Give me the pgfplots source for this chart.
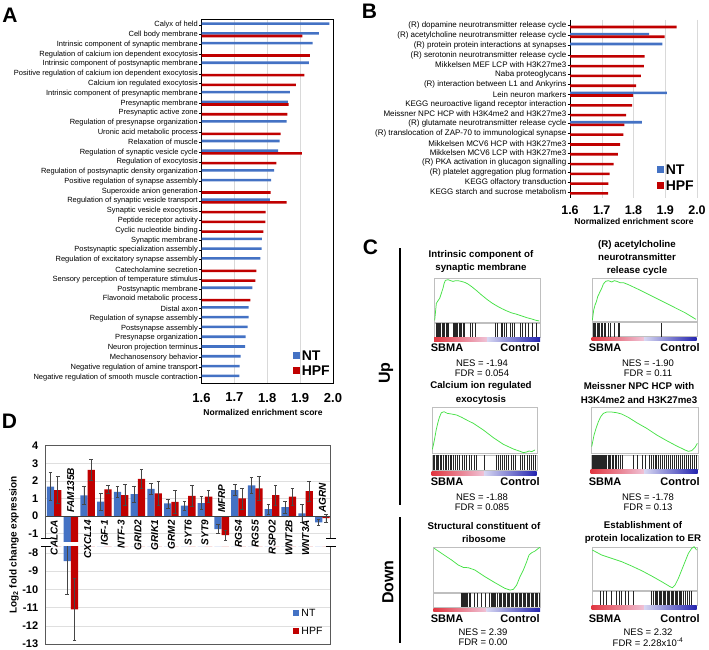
\documentclass[border=0pt]{standalone}
\usepackage{pgfplots}
\pgfplotsset{compat=1.18}
\usepackage{fontspec}
\setmainfont{Liberation Sans}
\definecolor{ntblue}{RGB}{68,114,196}
\definecolor{hpfred}{RGB}{192,0,0}
\definecolor{esgreen}{RGB}{70,225,70}
\definecolor{gsred}{RGB}{225,55,65}
\definecolor{gspink}{RGB}{240,195,215}
\definecolor{gslav}{RGB}{215,215,242}
\definecolor{gsblue}{RGB}{35,35,175}
\newcommand{\fs}[1]{\fontsize{#1}{#1}\selectfont}
\pgfplotsset{
 esax/.style={scale only axis, anchor=north west, y dir=reverse, xtick=\empty, ytick=\empty,
   axis line style={gray!50, line width=0.4pt}},
 bcax/.style={scale only axis, anchor=north west, ymin=0, ymax=1, xtick=\empty, ytick=\empty,
   axis line style={gray!50, line width=0.4pt}},
 escurve/.style={esgreen, line width=0.75pt, mark=none},
 bclines/.style={ycomb, black!85, line width=0.45pt, mark=none},
 eb/.style={error bars/y dir=both, error bars/y explicit,
   error bars/error bar style={gray!55!black, line width=0.5pt},
   error bars/error mark options={rotate=90, mark size=1.8pt, gray!55!black, line width=0.5pt}},
 sqleg/.style={legend image code/.code={\fill[##1] (0pt,-3pt) rectangle (7pt,4pt);}},
 sqlegs/.style={legend image code/.code={\fill[##1] (0pt,-2.5pt) rectangle (6pt,3.5pt);}},
}
\newcommand{\ribbon}[4]{% x1 x2 y1 y2 (pt numbers)
 \pgfmathsetmacro{\rmid}{(#1+#2)/2}%
 \shade[left color=gsred, right color=gspink] (#1pt,-#3pt) rectangle (\rmid pt,-#4pt);
 \shade[left color=gslav, right color=gsblue] (\rmid pt,-#3pt) rectangle (#2pt,-#4pt);}
\begin{document}
\begin{tikzpicture}
\useasboundingbox (0pt,0pt) rectangle (709pt,-649pt);

% ---------------- Panel A ----------------
\begin{axis}[
  at={(201.5pt,-19pt)}, anchor=north west, scale only axis,
  width=131.5pt, height=364pt,
  xmin=1.6, xmax=2.0, ymin=-0.6, ymax=36.6, y dir=reverse,
  xbar, bar width=2.6pt,
  axis line style={black, line width=0.7pt},
  xtick={1.6,1.7,1.8,1.9,2.0},
  xticklabel style={font=\bfseries\fs{13}, /pgf/number format/fixed, /pgf/number format/fixed zerofill, /pgf/number format/precision=1, /pgf/number format/assume math mode=true, yshift=-4pt},
  xtick style={draw=none},
  xmajorgrids, grid style={gray!30, line width=0.5pt},
  ytick={0,...,36},
  yticklabels={Calyx of held, Cell body membrane, Intrinsic component of synaptic membrane, Regulation of calcium ion dependent exocytosis, Intrinsic component of postsynaptic membrane, Positive regulation of calcium ion dependent exocytosis, Calcium ion regulated exocytosis, Intrinsic component of presynaptic membrane, Presynaptic membrane, Presynaptic active zone, Regulation of presynapse organization, Uronic acid metabolic process, Relaxation of muscle, Regulation of synaptic vesicle cycle, Regulation of exocytosis, Regulation of postsynaptic density organization, Positive regulation of synapse assembly, Superoxide anion generation, Regulation of synaptic vesicle transport, Synaptic vesicle exocytosis, Peptide receptor activity, Cyclic nucleotide binding, Synaptic membrane, Postsynaptic specialization assembly, Regulation of excitatory synapse assembly, Catecholamine secretion, Sensory perception of temperature stimulus, Postsynaptic membrane, Flavonoid metabolic process, Distal axon, Regulation of synapse assembly, Postsynapse assembly, Presynapse organization, Neuron projection terminus, Mechanosensory behavior, Negative regulation of amine transport, Negative regulation of smooth muscle contraction},
  yticklabel style={font=\fs{7.5}, inner sep=1pt},
  ytick pos=left, tick align=outside, major tick length=2.5pt, ytick style={black, line width=0.5pt},
  legend style={draw=none, fill=none, font=\bfseries\fs{14}, at={(axis cs:2.0,36.3)}, anchor=south east, inner sep=1pt, row sep=0pt},
  legend cell align=left,
]
\addplot[fill=ntblue, draw=none, bar shift=1.3pt, sqleg] coordinates {
(1.989,0) (1.957,1) (1.938,2) (1.927,4) (1.869,7) (1.863,8) (1.859,10) (1.838,12) (1.833,13) (1.821,15) (1.812,16) (1.808,18) (1.784,22) (1.783,23) (1.779,24) (1.755,27) (1.743,29) (1.743,30) (1.740,31) (1.734,32) (1.733,33) (1.719,34) (1.716,35) (1.715,36)};
\addplot[fill=hpfred, draw=none, bar shift=-1.3pt, sqleg] coordinates {
(1.907,1) (1.930,3) (1.913,5) (1.887,6) (1.865,8) (1.861,9) (1.841,11) (1.905,13) (1.828,14) (1.810,17) (1.859,18) (1.795,19) (1.794,20) (1.788,21) (1.767,25) (1.764,26) (1.749,28)};
\legend{NT,HPF}
\end{axis}
\node[font=\bfseries\fs{8.5}] at (263pt,-412pt) {Normalized enrichment score};

% ---------------- Panel B ----------------
\begin{axis}[
  at={(570pt,-19.8pt)}, anchor=north west, scale only axis,
  width=127pt, height=178.2pt,
  xmin=1.6, xmax=2.0, ymin=-0.6, ymax=17.6, y dir=reverse,
  xbar, bar width=2.6pt,
  axis y line*=left, axis x line*=bottom,
  x axis line style={draw=none}, y axis line style={black, line width=0.7pt, -},
  xtick={1.6,1.7,1.8,1.9,2.0},
  xticklabel style={font=\bfseries\fs{12.5}, /pgf/number format/fixed, /pgf/number format/fixed zerofill, /pgf/number format/precision=1, /pgf/number format/assume math mode=true, yshift=-2pt},
  xtick style={draw=none},
  xmajorgrids, grid style={gray!30, line width=0.5pt},
  ytick={0,...,17},
  yticklabels={(R) dopamine neurotransmitter release cycle, (R) acetylcholine neurotransmitter release cycle, (R) protein protein interactions at synapses, (R) serotonin neurotransmitter release cycle, Mikkelsen MEF LCP with H3K27me3, Naba proteoglycans, (R) interaction between L1 and Ankyrins, Lein neuron markers, KEGG neuroactive ligand receptor interaction, Meissner NPC HCP with H3K4me2 and H3K27me3, (R) glutamate neurotransmitter release cycle, (R) translocation of ZAP-70 to immunological synapse, Mikkelsen MCV6 HCP with H3K27me3, Mikkelsen MCV6 LCP with H3K27me3, (R) PKA activation in glucagon signalling, (R) platelet aggregation plug formation, KEGG olfactory transduction, KEGG starch and sucrose metabolism},
  yticklabel style={font=\fs{8}, inner sep=1pt},
  tick align=outside, major tick length=2.5pt, ytick style={black, line width=0.5pt},
  legend style={draw=none, fill=none, font=\bfseries\fs{14}, at={(axis cs:2.0,17.3)}, anchor=south east, inner sep=1pt, row sep=1pt},
  legend cell align=left,
]
\addplot[fill=ntblue, draw=none, bar shift=1.3pt, sqleg] coordinates {
(1.849,1) (1.891,2) (1.905,7) (1.826,10)};
\addplot[fill=hpfred, draw=none, bar shift=-1.3pt, sqleg] coordinates {
(1.936,0) (1.898,1) (1.835,3) (1.833,4) (1.823,5) (1.808,6) (1.799,7) (1.796,8) (1.777,9) (1.771,10) (1.768,11) (1.758,12) (1.751,13) (1.737,14) (1.725,15) (1.721,16) (1.720,17)};
\legend{NT,HPF}
\end{axis}
\node[font=\bfseries\fs{8.5}] at (634pt,-221pt) {Normalized enrichment score};

% ---------------- Panel D ----------------
\begin{axis}[
  at={(45.7pt,-445.7pt)}, anchor=north west, scale only axis,
  width=285pt, height=95.3pt,
  xmin=-0.5, xmax=16.5, ymin=-1.42, ymax=4,
  ybar, bar width=7.3pt,
  axis line style={draw=none},
  xtick=\empty, ytick={-1,0,1,2,3,4},
  yticklabel style={font=\bfseries\fs{11}, /pgf/number format/assume math mode=true, xshift=-4pt},
  ytick style={draw=none},
  ymajorgrids, grid style={gray!25, line width=0.5pt},
]
\addplot[fill=ntblue, draw=none, bar shift=-3.65pt, eb] coordinates {
(0,1.67) +- (0,0.80) (1,-8.45) +- (0,1.82) (2,1.18) +- (0,0.53) (3,0.82) +- (0,0.47) (4,1.37) +- (0,0.30) (5,1.25) +- (0,0.46) (6,1.54) +- (0,0.32) (7,0.72) +- (0,0.25) (8,0.59) +- (0,0.24) (9,0.74) +- (0,0.36) (10,-0.74) +- (0,0.25) (11,1.48) +- (0,0.32) (12,1.74) +- (0,0.46) (13,0.40) +- (0,0.28) (14,0.51) +- (0,0.34) (15,0.15) +- (0,0.51) (16,-0.36) +- (0,0.15)};
\addplot[fill=hpfred, draw=none, bar shift=3.65pt, eb] coordinates {
(0,1.48) +- (0,0.78) (1,-11.1) +- (0,1.70) (2,2.62) +- (0,0.60) (3,1.52) +- (0,0.22) (4,1.19) +- (0,0.59) (5,2.12) +- (0,0.55) (6,1.29) +- (0,0.70) (7,0.80) +- (0,0.64) (8,1.14) +- (0,0.60) (9,1.10) +- (0,0.34) (10,-1.08) +- (0,0.28) (11,1.00) +- (0,0.59) (12,1.57) +- (0,0.70) (13,1.19) +- (0,0.55) (14,1.10) +- (0,0.49) (15,1.42) +- (0,0.57) (16,-0.12) +- (0,0.25)};
\draw[black!75, line width=0.6pt] (axis cs:-0.5,0) -- (axis cs:16.5,0);
\end{axis}
\begin{axis}[
  at={(45.7pt,-546pt)}, anchor=north west, scale only axis,
  width=285pt, height=98pt,
  xmin=-0.5, xmax=16.5, ymin=-13, ymax=-7.62,
  ybar, bar width=7.3pt,
  axis line style={draw=none},
  xtick=\empty, ytick={-13,-12,-11,-10,-9,-8},
  yticklabel style={font=\bfseries\fs{11}, /pgf/number format/assume math mode=true, xshift=-4pt},
  ytick style={draw=none},
  ymajorgrids, grid style={gray!25, line width=0.5pt},
  legend style={draw=none, fill=none, font=\fs{10.5}, at={(axis cs:16.2,-12.75)}, anchor=south east, inner sep=1pt, row sep=6pt},
  legend cell align=left,
]
\addplot[fill=ntblue, draw=none, bar shift=-3.65pt, sqlegs, eb] coordinates {
(0,1.67) +- (0,0.80) (1,-8.45) +- (0,1.82) (2,1.18) +- (0,0.53) (3,0.82) +- (0,0.47) (4,1.37) +- (0,0.30) (5,1.25) +- (0,0.46) (6,1.54) +- (0,0.32) (7,0.72) +- (0,0.25) (8,0.59) +- (0,0.24) (9,0.74) +- (0,0.36) (10,-0.74) +- (0,0.25) (11,1.48) +- (0,0.32) (12,1.74) +- (0,0.46) (13,0.40) +- (0,0.28) (14,0.51) +- (0,0.34) (15,0.15) +- (0,0.51) (16,-0.36) +- (0,0.15)};
\addplot[fill=hpfred, draw=none, bar shift=3.65pt, sqlegs, eb] coordinates {
(0,1.48) +- (0,0.78) (1,-11.1) +- (0,1.70) (2,2.62) +- (0,0.60) (3,1.52) +- (0,0.22) (4,1.19) +- (0,0.59) (5,2.12) +- (0,0.55) (6,1.29) +- (0,0.70) (7,0.80) +- (0,0.64) (8,1.14) +- (0,0.60) (9,1.10) +- (0,0.34) (10,-1.08) +- (0,0.28) (11,1.00) +- (0,0.59) (12,1.57) +- (0,0.70) (13,1.19) +- (0,0.55) (14,1.10) +- (0,0.49) (15,1.42) +- (0,0.57) (16,-0.12) +- (0,0.25)};
\legend{NT,HPF}
\end{axis}
% frame and break marks
\draw[black!65, line width=0.6pt] (45.7pt,-538.5pt) -- (45.7pt,-445.7pt) -- (330.7pt,-445.7pt) -- (330.7pt,-538.5pt);
\draw[black!65, line width=0.6pt] (45.7pt,-546.5pt) -- (45.7pt,-644pt) -- (330.7pt,-644pt) -- (330.7pt,-546.5pt);
\foreach \yy in {538.5,546.5}{
  \draw[black, line width=0.9pt] (41pt,-\yy pt) -- (51pt,-\yy pt);
  \draw[black, line width=0.9pt] (326pt,-\yy pt) -- (336pt,-\yy pt);}
% gene labels
\foreach \xx/\nm in {54.1/CALCA, 87.6/CXCL14, 104.4/IGF-1, 121.2/NTF-3, 137.9/GRID2, 154.7/GRIK1, 171.5/GRM2, 188.2/SYT6, 205.0/SYT9, 238.5/RGS4, 255.3/RGS5, 272.1/RSPO2, 288.9/WNT2B, 305.6/WNT3A}
  \node[rotate=90, anchor=east, font=\bfseries\itshape\fs{10}, inner sep=0pt] at (\xx pt,-520pt) {\nm};
\foreach \xx/\nm in {70.8/FAM135B, 221.8/MFRP, 322.4/AGRN}
  \node[rotate=90, anchor=west, font=\bfseries\itshape\fs{10}, inner sep=0pt] at (\xx pt,-513pt) {\nm};
\node[rotate=90, font=\bfseries\fs{10}] at (14pt,-545pt) {Log\textsubscript{2} fold change expression};

% ---------------- Panel C ----------------
\draw[line width=2.5pt] (400pt,-248pt) -- (400pt,-505pt);
\draw[line width=2.5pt] (400pt,-517pt) -- (400pt,-643pt);
\node[rotate=90, font=\bfseries\fs{16}] at (386pt,-373pt) {Up};
\node[rotate=90, font=\bfseries\fs{16}] at (388pt,-582pt) {Down};

\node[align=center, font=\bfseries\fontsize{9.7}{13.2}\selectfont] at (481pt,-261.5pt) {Intrinsic component of\\synaptic membrane};
\node[align=center, font=\bfseries\fontsize{9.7}{13.2}\selectfont] at (637pt,-258pt) {(R) acetylcholine\\neurotransmitter\\release cycle};
\node[align=center, font=\bfseries\fontsize{9.7}{14}\selectfont] at (481pt,-393pt) {Calcium ion regulated\\exocytosis};
\node[align=center, font=\bfseries\fontsize{9.7}{14}\selectfont] at (639pt,-393pt) {Meissner NPC HCP with\\H3K4me2 and H3K27me3};
\node[align=center, font=\bfseries\fontsize{9.7}{13.2}\selectfont] at (484pt,-532.5pt) {Structural constituent of\\ribosome};
\node[align=center, font=\bfseries\fontsize{9.7}{13.2}\selectfont] at (643pt,-532.5pt) {Establishment of\\protein localization to ER};

\foreach \yy in {348,482,619}{
  \node[font=\bfseries\fs{11}] at (447pt,-\yy pt) {SBMA};
  \node[font=\bfseries\fs{11}] at (520pt,-\yy pt) {Control};
  \node[font=\bfseries\fs{11}] at (605pt,-\yy pt) {SBMA};
  \node[font=\bfseries\fs{11}] at (680pt,-\yy pt) {Control};}
\node[font=\fs{9.5}] at (482pt,-363pt) {NES = -1.94};
\node[font=\fs{9.5}] at (482pt,-373.5pt) {FDR = 0.054};
\node[font=\fs{9.5}] at (648pt,-363pt) {NES = -1.90};
\node[font=\fs{9.5}] at (648pt,-373.5pt) {FDR = 0.11};
\node[font=\fs{9.5}] at (482pt,-497pt) {NES = -1.88};
\node[font=\fs{9.5}] at (482pt,-507.5pt) {FDR = 0.085};
\node[font=\fs{9.5}] at (648pt,-497pt) {NES = -1.78};
\node[font=\fs{9.5}] at (648pt,-507.5pt) {FDR = 0.13};
\node[font=\fs{9.5}] at (483pt,-632pt) {NES = 2.39};
\node[font=\fs{9.5}] at (483pt,-642.5pt) {FDR = 0.00};
\node[font=\fs{9.5}] at (648pt,-632pt) {NES = 2.32};
\node[font=\fs{9.5}] at (648pt,-642.5pt) {FDR = 2.28x10\textsuperscript{-4}};

% P1
\begin{axis}[esax, at={(434pt,-278pt)}, width=106pt, height=44pt, xmin=28, xmax=345, ymin=25, ymax=155]
\addplot[escurve] coordinates {(30,150) (33,120) (35,100) (40,92) (45,85) (50,70) (55,55) (58,42) (62,32) (70,30) (78,33) (85,35) (92,33) (100,33) (110,35) (120,38) (130,43) (140,50) (155,62) (170,75) (185,87) (200,98) (215,107) (230,115) (245,122) (260,128) (275,132) (290,137) (305,142) (320,146) (333,150) (343,152)};
\end{axis}
\begin{axis}[bcax, at={(434pt,-323pt)}, width=106pt, height=14pt, xmin=28, xmax=345]
\addplot[bclines] coordinates {(35,1) (38,1) (41,1) (44,1) (48,1) (52,1) (56,1) (60,1) (64,1) (68,1) (72,1) (84,1) (87,1) (90,1) (94,1) (98,1) (102,1) (106,1) (110,1) (114,1) (118,1) (135,1) (142,1) (150,1) (212,1) (216,1) (228,1) (232,1) (238,1) (244,1) (256,1) (262,1) (268,1) (285,1) (292,1) (300,1) (310,1) (322,1) (333,1)};
\end{axis}
\ribbon{434}{540}{337.5}{341}

% P2
\begin{axis}[esax, at={(591.7pt,-278.3pt)}, width=105pt, height=42.4pt, xmin=20, xmax=335, ymin=25, ymax=152]
\addplot[escurve] coordinates {(22,150) (26,120) (30,105) (34,95) (38,80) (45,65) (50,55) (55,42) (62,34) (70,32) (80,36) (88,32) (95,34) (105,38) (115,38) (130,44) (160,58) (200,78) (250,103) (300,128) (333,148)};
\end{axis}
\begin{axis}[bcax, at={(591.7pt,-322.5pt)}, width=105pt, height=14pt, xmin=20, xmax=335]
\addplot[bclines] coordinates {(25,1) (28,1) (32,1) (36,1) (40,1) (44,1) (48,1) (52,1) (58,1) (62,1) (70,1) (76,1) (88,1) (100,1) (104,1) (228,1)};
\end{axis}
\ribbon{591.7}{696.7}{337}{340.5}

% P3
\begin{axis}[esax, at={(431.7pt,-406.7pt)}, width=105pt, height=46.6pt, xmin=245, xmax=560, ymin=-10, ymax=130]
\addplot[escurve] coordinates {(247,118) (250,105) (254,85) (258,62) (263,40) (268,22) (274,8) (282,5) (292,10) (305,12) (320,15) (335,22) (350,30) (370,40) (400,60) (430,83) (460,103) (490,117) (510,124) (520,128) (530,126) (537,123) (545,125) (555,120)};
\end{axis}
\begin{axis}[bcax, at={(431.7pt,-455pt)}, width=105pt, height=15pt, xmin=245, xmax=560]
\addplot[bclines] coordinates {(250,1) (254,1) (258,1) (262,1) (266,1) (270,1) (275,1) (280,1) (285,1) (290,1) (295,1) (300,1) (305,1) (310,1) (316,1) (322,1) (328,1) (338,1) (344,1) (350,1) (358,1) (364,1) (372,1) (378,1) (402,1) (440,1) (446,1) (452,1) (458,1) (464,1) (470,1) (476,1) (484,1) (490,1) (496,1) (510,1) (518,1) (524,1) (532,1) (538,1) (544,1) (550,1) (556,1)};
\end{axis}
\ribbon{431.7}{536.7}{471}{475}

% P4
\begin{axis}[esax, at={(590.7pt,-406.7pt)}, width=107pt, height=46.6pt, xmin=722, xmax=1043, ymin=-10, ymax=130]
\addplot[escurve] coordinates {(725,110) (728,95) (732,75) (738,55) (745,35) (752,20) (760,10) (770,6) (785,6) (800,8) (815,12) (835,22) (860,38) (890,55) (920,75) (950,92) (980,108) (1005,120) (1015,124) (1025,122) (1035,112) (1042,100)};
\end{axis}
\begin{axis}[bcax, at={(590.7pt,-455pt)}, width=107pt, height=14pt, xmin=722, xmax=1043]
\addplot[bclines] coordinates {(728,1) (731,1) (734,1) (737,1) (740,1) (743,1) (746,1) (749,1) (752,1) (755,1) (758,1) (761,1) (764,1) (767,1) (770,1) (774,1) (778,1) (782,1) (786,1) (790,1) (795,1) (800,1) (806,1) (812,1) (818,1) (850,1) (862,1) (876,1) (886,1) (898,1) (905,1) (910,1) (915,1) (920,1) (926,1) (932,1) (938,1) (944,1) (950,1) (956,1) (962,1) (968,1) (974,1) (980,1) (986,1) (992,1) (998,1) (1004,1) (1010,1) (1016,1) (1022,1) (1028,1) (1034,1) (1040,1)};
\end{axis}
\ribbon{590.7}{697.7}{469.5}{473.5}

% P5
\begin{axis}[esax, at={(433.3pt,-546.7pt)}, width=106.7pt, height=45pt, xmin=25, xmax=345, ymin=20, ymax=155]
\addplot[escurve] coordinates {(28,25) (50,40) (80,60) (100,75) (115,82) (130,83) (150,90) (180,110) (210,128) (240,145) (255,150) (265,148) (275,135) (285,110) (295,90) (305,65) (312,45) (320,38) (330,33) (340,25) (345,22)};
\end{axis}
\begin{axis}[bcax, at={(433.3pt,-593.3pt)}, width=106.7pt, height=13.4pt, xmin=25, xmax=345]
\addplot[bclines] coordinates {(110,1) (113,1) (116,1) (119,1) (122,1) (125,1) (128,1) (132,1) (136,1) (148,1) (158,1) (168,1) (180,1) (192,1) (200,1) (203,1) (206,1) (209,1) (212,1) (218,1) (222,1) (226,1) (230,1) (234,1) (238,1) (242,1) (246,1) (250,1) (254,1) (258,1) (262,1) (266,1) (270,1) (274,1) (278,1) (282,1) (286,1) (290,1) (294,1) (298,1) (302,1) (306,1) (310,1) (314,1) (318,1) (322,1) (326,1) (330,1) (334,1) (338,1) (342,1)};
\end{axis}
\ribbon{433.3}{540}{608.3}{611.7}

% P6
\begin{axis}[esax, at={(591.7pt,-546.7pt)}, width=105pt, height=43.3pt, xmin=20, xmax=335, ymin=20, ymax=150]
\addplot[escurve] coordinates {(22,30) (50,45) (80,55) (110,65) (140,78) (170,92) (200,108) (230,125) (255,140) (262,143) (270,135) (280,115) (290,90) (300,65) (310,40) (320,25) (327,20) (335,30)};
\end{axis}
\begin{axis}[bcax, at={(591.7pt,-591pt)}, width=105pt, height=14pt, xmin=20, xmax=335]
\addplot[bclines] coordinates {(45,1) (55,1) (65,1) (80,1) (95,1) (102,1) (110,1) (120,1) (130,1) (145,1) (200,1) (205,1) (210,1) (214,1) (218,1) (222,1) (226,1) (230,1) (234,1) (238,1) (242,1) (246,1) (250,1) (254,1) (258,1) (262,1) (266,1) (270,1) (274,1) (278,1) (282,1) (286,1) (290,1) (295,1) (300,1) (306,1) (312,1) (318,1)};
\end{axis}
\ribbon{591.7}{696.7}{605.7}{609}

% panel letters
\node[font=\bfseries\fs{21}] at (10pt,-15pt) {A};
\node[font=\bfseries\fs{21}] at (369.5pt,-11.5pt) {B};
\node[font=\bfseries\fs{21}] at (370.5pt,-247.5pt) {C};
\node[font=\bfseries\fs{21}] at (9.5pt,-421.5pt) {D};
\end{tikzpicture}
\end{document}
